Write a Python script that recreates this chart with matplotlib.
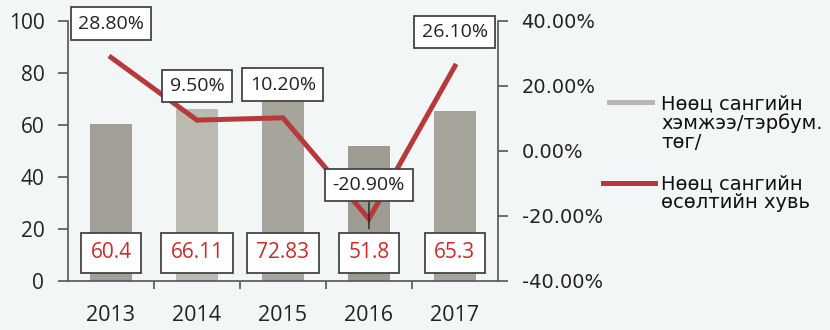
import matplotlib
matplotlib.use("Agg")
import matplotlib.pyplot as plt
from matplotlib.lines import Line2D
from matplotlib.patches import Rectangle

years = ["2013", "2014", "2015", "2016", "2017"]
reserve = [60.4, 66.11, 72.83, 51.8, 65.3]
growth = [28.8, 9.5, 10.2, -20.9, 26.1]
growth_labels = ["28.80%", "9.50%", "10.20%", "-20.90%", "26.10%"]
left_ticks = [0, 20, 40, 60, 80, 100]
right_ticks = [-40, -20, 0, 20, 40]
legend_labels = ["Нөөц сангийн\nхэмжээ/тэрбум.\nтөг/", "Нөөц сангийн\nөсөлтийн хувь"]

# label anchor positions (percent axis) for the growth boxes
growth_label_y = [39.1, 20.0, 20.4, -10.5, 36.6]

bg = "#f3f6f7"
bar_colors = ["#a29f97", "#bcb9b1", "#a7a49b", "#9e9c90", "#a6a39b"]
line_color = "#b8393a"
text_dark = "#222222"
label_font = "Open Sans"
legend_font = "DejaVu Sans"

fig = plt.figure(figsize=(8.3, 3.3), dpi=100, facecolor=bg)
ax = fig.add_axes([0.0819, 0.1485, 0.518, 0.788])
ax.set_facecolor(bg)
ax2 = ax.twinx()

x = list(range(len(years)))
ax.bar(x, reserve, width=0.49, color=bar_colors, zorder=2)
ax.set_xlim(-0.5, len(years) - 0.5)
ax.set_ylim(0, 100)
ax.set_yticks(left_ticks)
ax.set_yticklabels([str(v) for v in left_ticks], fontsize=15, family=label_font, color=text_dark)

ax.set_xticks(x)
ax.set_xticklabels(years, fontsize=15.5, family=label_font, color=text_dark)
ax.set_xticks([i + 0.5 for i in x[:-1]], minor=True)
ax.tick_params(axis="x", which="major", length=0, pad=17)
ax.tick_params(axis="x", which="minor", length=6, width=1.2, color="#555555", direction="out")
ax.tick_params(axis="y", length=7, width=1.2, color="#555555", direction="out", pad=10)

ax.spines["top"].set_visible(False)
ax2.spines["top"].set_visible(False)
ax.spines["right"].set_visible(False)
for sp in (ax.spines["left"], ax.spines["bottom"], ax2.spines["right"]):
    sp.set_color("#555555")
    sp.set_linewidth(1.2)
ax2.spines["left"].set_visible(False)
ax2.spines["bottom"].set_visible(False)

ax2.plot(x, growth, color=line_color, lw=3.6, solid_joinstyle="miter", zorder=3)
ax2.set_ylim(-40, 40)
ax2.set_yticks(right_ticks)
ax2.set_yticklabels([f"{v:.2f}%" for v in right_ticks], fontsize=14,
                    family=legend_font, color=text_dark)
ax2.tick_params(axis="y", length=7, width=1.2, color="#555555", direction="out", pad=10)

value_box = dict(boxstyle="square,pad=0.45", facecolor="white", edgecolor="#444444", lw=1.3)
pct_box = dict(boxstyle="square,pad=0.38", facecolor="white", edgecolor="#444444", lw=1.3)

# value boxes near the base of each bar
for i, v in enumerate(reserve):
    ax.annotate(f"{v:g}", xy=(i, 10.8), ha="center", va="center", fontsize=15,
                family=label_font, color="#cc2a2a", bbox=value_box, zorder=5)

# growth boxes, with a leader line for the 2016 point
for i, (g, lab, ly) in enumerate(zip(growth, growth_labels, growth_label_y)):
    if i == 3:
        ax2.annotate(lab, xy=(i, g - 3.0), xytext=(i, ly), ha="center", va="center",
                     fontsize=14, family=label_font, color=text_dark, bbox=pct_box,
                     arrowprops=dict(arrowstyle="-", color="#222222", lw=1.0,
                                     shrinkA=0, shrinkB=0),
                     zorder=6)
    else:
        ax2.annotate(lab, xy=(i, ly), ha="center", va="center", fontsize=14,
                     family=label_font, color=text_dark, bbox=pct_box, zorder=6)

# legend drawn in figure coordinates
W, H = 830.0, 330.0
fig.add_artist(Rectangle((607 / W, 1 - 105 / H), 48 / W, 5 / H,
                         transform=fig.transFigure, facecolor="#b9b6b0", edgecolor="none"))
fig.add_artist(Line2D([603 / W, 655 / W], [1 - 183 / H, 1 - 183 / H],
                      transform=fig.transFigure, color=line_color, lw=3.6))
fig.text(661 / W, 1 - 94 / H, legend_labels[0], ha="left", va="top", fontsize=14,
         family=legend_font, color="#111111", linespacing=1.0)
fig.text(661 / W, 1 - 174 / H, legend_labels[1], ha="left", va="top", fontsize=14,
         family=legend_font, color="#111111", linespacing=1.0)

fig.savefig("out.png", dpi=100, facecolor=bg)
